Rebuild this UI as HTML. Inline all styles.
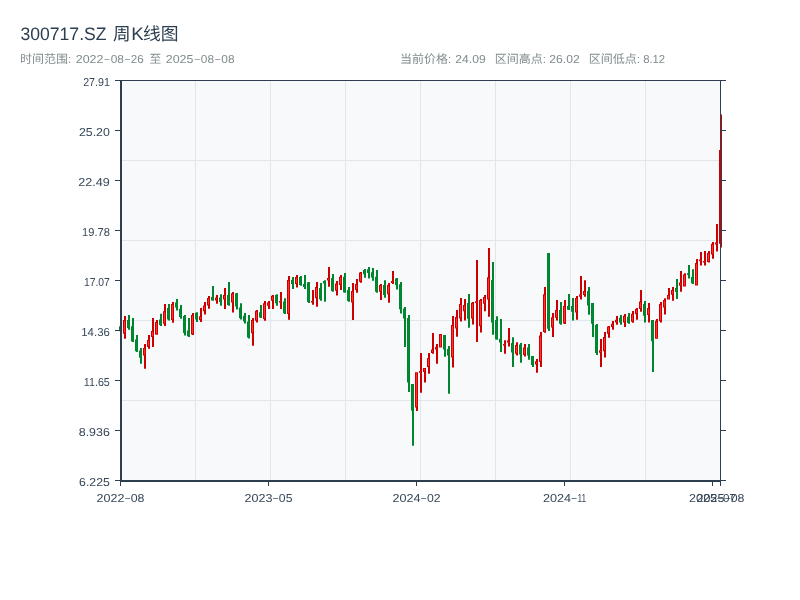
<!DOCTYPE html>
<html lang="zh"><head><meta charset="utf-8"><title>300717.SZ</title>
<style>
html,body{margin:0;padding:0;background:#fff}
body{width:800px;height:600px;overflow:hidden;position:relative;font-family:"Liberation Sans",sans-serif}
svg{position:absolute;left:0;top:0;display:block;will-change:transform}
svg text{font-family:"Liberation Sans","Noto Sans CJK SC",sans-serif;white-space:pre;text-rendering:geometricPrecision}
</style></head><body>
<svg width="800" height="600" viewBox="0 0 800 600">
<title>300717.SZ 周K线图</title><desc>时间范围: 2022-08-26 至 2025-08-08 当前价格: 24.09 区间高点: 26.02 区间低点: 8.12</desc>
<rect x="0" y="0" width="800" height="600" fill="#ffffff"/>
<rect x="121" y="80" width="600" height="400" fill="#f8f9fb"/>
<path d="M195.5 81V480M270.5 81V480M345.5 81V480M420.5 81V480M495.5 81V480M570.5 81V480M645.5 81V480M720.5 81V480M122 160.5H720M122 240.5H720M122 320.5H720M122 400.5H720" stroke="#e2e6ea" stroke-width="1" fill="none"/>
<g clip-path="url(#cp)">
<path d="M120 322h2V333h-2zM119 326.25h3V331.25h-3zM128 315h2V329.75h-2zM127 320h3V328h-3zM132 318h2V341.9h-2zM131 326.25h3V341.5h-3zM136 335h2V351.9h-2zM135 339.5h3V351.25h-3zM140 348h2V363.75h-2zM139 350.5h3V357.75h-3zM160 313.75h2V326h-2zM159 319.4h3V325h-3zM168 304h2V320.6h-2zM167 308h3V319.4h-3zM176 299h2V310.6h-2zM175 302.5h3V307.5h-3zM180 305h2V318.75h-2zM179 308.75h3V316.9h-3zM184 315h2V335.6h-2zM183 316h3V333h-3zM188 318h2V336.9h-2zM187 330.6h3V336.25h-3zM196 312.25h2V321.9h-2zM195 312.75h3V319.4h-3zM212 286h2V300.8h-2zM211 297h3V300.5h-3zM220 294.25h2V305.75h-2zM219 297.6h3V302h-3zM228 282h2V305.75h-2zM227 295h3V305h-3zM236 293h2V309.5h-2zM235 293.25h3V306.4h-3zM240 303.25h2V319.5h-2zM239 307.6h3V318.25h-3zM244 313h2V323.5h-2zM243 315.75h3V321.4h-3zM248 315h2V338.5h-2zM247 321.4h3V337.6h-3zM260 305h2V318h-2zM259 312.25h3V317.6h-3zM276 294.25h2V305.75h-2zM275 295h3V303.25h-3zM284 298.25h2V313.9h-2zM283 301.4h3V313.25h-3zM292 277h2V288.9h-2zM291 280h3V283.9h-3zM300 276h2V285.75h-2zM299 277h3V285h-3zM304 275h2V288.9h-2zM303 283.9h3V287h-3zM308 282h2V303h-2zM307 282.25h3V302h-3zM320 283h2V300.75h-2zM319 288h3V299.25h-3zM324 280.25h2V301.75h-2zM323 281h3V283.6h-3zM332 274h2V291.75h-2zM331 278h3V291h-3zM344 273h2V292.75h-2zM343 276.75h3V292.4h-3zM348 287h2V301.75h-2zM347 289.9h3V301h-3zM364 269h2V277.75h-2zM363 269.9h3V274.25h-3zM368 267h2V278.6h-2zM367 269.25h3V273h-3zM372 268h2V280.75h-2zM371 272.2h3V277.6h-3zM376 269.9h2V292.75h-2zM375 276.75h3V291.75h-3zM384 280.25h2V297.75h-2zM383 284.9h3V294.9h-3zM396 278h2V289.5h-2zM395 278.6h3V284.9h-3zM400 282h2V313.6h-2zM399 284.25h3V309.25h-3zM404 307h2V346.9h-2zM403 308.6h3V318.6h-3zM408 315h2V391.9h-2zM407 318h3V382.5h-3zM412 384h2V445.8h-2zM411 384h3V410.7h-3zM444 335h2V356.7h-2zM443 335h3V349.4h-3zM448 346h2V393.75h-2zM447 349h3V355.6h-3zM468 294h2V327.75h-2zM467 303h3V318.75h-3zM492 262h2V334.75h-2zM491 280h3V322.5h-3zM496 316.25h2V339.75h-2zM495 320h3V339.4h-3zM500 319h2V351.9h-2zM499 338.75h3V342.5h-3zM512 337.25h2V366.9h-2zM511 343h3V352.5h-3zM520 343h2V362.75h-2zM519 344.4h3V354.4h-3zM528 344h2V359.75h-2zM527 347.5h3V355.6h-3zM532 356h2V366.9h-2zM531 356h3V365h-3zM548 253h2V331h-2zM547 253h3V328.75h-3zM560 302h2V324.75h-2zM559 309.9h3V323.75h-3zM568 294h2V309.9h-2zM567 306h3V309.8h-3zM572 298h2V320.5h-2zM571 306h3V311.8h-3zM588 287h2V314.8h-2zM587 291h3V305.5h-3zM592 303h2V336.9h-2zM591 303h3V323.75h-3zM596 324h2V355h-2zM595 325h3V353h-3zM620 315h2V324.75h-2zM619 317.75h3V322.5h-3zM628 313h2V323.75h-2zM627 316.8h3V323h-3zM644 301h2V322.6h-2zM643 303.9h3V315.75h-3zM652 320h2V371.9h-2zM651 320h3V341.25h-3zM676 278.9h2V298.9h-2zM675 288h3V292h-3zM688 265h2V278.5h-2zM687 273.25h3V275h-3zM692 269.25h2V283.9h-2zM691 277h3V283.25h-3z" fill="#00852e"/>
<path d="M120 327.25h1V330.25h-1zM128 321h1V327h-1zM132 327.25h1V340.5h-1zM136 340.5h1V350.25h-1zM140 351.5h1V356.75h-1zM160 320.4h1V324h-1zM168 309h1V318.4h-1zM176 303.5h1V306.5h-1zM180 309.75h1V315.9h-1zM184 317h1V332h-1zM188 331.6h1V335.25h-1zM196 313.75h1V318.4h-1zM212 298h1V299.5h-1zM220 298.6h1V301h-1zM228 296h1V304h-1zM236 294.25h1V305.4h-1zM240 308.6h1V317.25h-1zM244 316.75h1V320.4h-1zM248 322.4h1V336.6h-1zM260 313.25h1V316.6h-1zM276 296h1V302.25h-1zM284 302.4h1V312.25h-1zM292 281h1V282.9h-1zM300 278h1V284h-1zM304 284.9h1V286h-1zM308 283.25h1V301h-1zM320 289h1V298.25h-1zM324 281.87h1V282.73h-1zM332 279h1V290h-1zM344 277.75h1V291.4h-1zM348 290.9h1V300h-1zM364 270.9h1V273.25h-1zM368 270.25h1V272h-1zM372 273.2h1V276.6h-1zM376 277.75h1V290.75h-1zM384 285.9h1V293.9h-1zM396 279.6h1V283.9h-1zM400 285.25h1V308.25h-1zM404 309.6h1V317.6h-1zM408 319h1V381.5h-1zM412 385h1V409.7h-1zM444 336h1V348.4h-1zM448 350h1V354.6h-1zM468 304h1V317.75h-1zM492 281h1V321.5h-1zM496 321h1V338.4h-1zM500 339.75h1V341.5h-1zM512 344h1V351.5h-1zM520 345.4h1V353.4h-1zM528 348.5h1V354.6h-1zM532 357h1V364h-1zM548 254h1V327.75h-1zM560 310.9h1V322.75h-1zM568 307h1V308.8h-1zM572 307h1V310.8h-1zM588 292h1V304.5h-1zM592 304h1V322.75h-1zM596 326h1V352h-1zM620 318.75h1V321.5h-1zM628 317.8h1V322h-1zM644 304.9h1V314.75h-1zM652 321h1V340.25h-1zM676 289h1V291h-1zM688 273.83h1V274.42h-1zM692 278h1V282.25h-1z" fill="#008b33"/>
<path d="M124 316h2V338.75h-2zM123 320h3V333.75h-3zM144 344h2V368.75h-2zM143 348h3V355.6h-3zM148 335h2V348.75h-2zM147 340h3V347h-3zM152 318h2V347h-2zM151 331h3V337h-3zM156 320h2V334.75h-2zM155 322h3V334.5h-3zM164 304h2V326h-2zM163 311.25h3V323.75h-3zM172 302h2V322.75h-2zM171 304h3V320h-3zM192 313h2V335h-2zM191 315h3V334.4h-3zM200 308h2V321.9h-2zM199 316.25h3V320h-3zM204 302h2V314.4h-2zM203 305.6h3V311.25h-3zM208 296h2V308.75h-2zM207 298h3V305.6h-3zM216 295h2V303.75h-2zM215 297.5h3V300.6h-3zM224 288h2V308.9h-2zM223 295h3V299.5h-3zM232 292h2V312.6h-2zM231 293.25h3V302.6h-3zM252 318h2V345.75h-2zM251 320h3V333.25h-3zM256 310h2V322.6h-2zM255 310.75h3V320.75h-3zM264 301h2V320.75h-2zM263 303.25h3V318.9h-3zM268 301h2V308.9h-2zM267 302.6h3V305.75h-3zM272 295h2V308.9h-2zM271 295.75h3V300.75h-3zM280 292h2V308.9h-2zM279 301h3V302.6h-3zM288 276h2V319.75h-2zM287 280h3V313.9h-3zM296 275h2V287.6h-2zM295 277h3V283.9h-3zM312 290h2V304.75h-2zM311 301h3V302.6h-3zM316 282h2V306.75h-2zM315 287h3V298.25h-3zM328 267h2V286.75h-2zM327 278h3V280.5h-3zM336 281h2V295.5h-2zM335 283.6h3V290.75h-3zM340 274.9h2V289.9h-2zM339 276.75h3V284.9h-3zM352 283h2V319.9h-2zM351 291h3V302.4h-3zM356 279h2V292.75h-2zM355 284h3V289.9h-3zM360 272h2V282.75h-2zM359 272.4h3V281.75h-3zM380 284h2V299.9h-2zM379 284.9h3V291.75h-3zM388 283h2V302.75h-2zM387 284.9h3V294.25h-3zM392 271h2V284h-2zM391 281h3V283h-3zM416 372.25h2V410.9h-2zM415 372.25h3V407.5h-3zM420 353h2V392.75h-2zM419 371h3V372.75h-3zM424 368h2V382.5h-2zM423 368h3V371.9h-3zM428 353h2V373.75h-2zM427 358h3V367h-3zM432 333h2V353.75h-2zM431 349.4h3V353h-3zM436 344h2V363.75h-2zM435 347h3V349.4h-3zM440 334h2V347.5h-2zM439 334h3V347.5h-3zM452 316h2V367.5h-2zM451 325h3V357.5h-3zM456 310h2V336.7h-2zM455 317h3V328.4h-3zM460 298h2V321.5h-2zM459 304h3V318.5h-3zM464 299h2V320.6h-2zM463 305h3V311.25h-3zM472 301.9h2V324.4h-2zM471 302.75h3V318.4h-3zM476 260h2V341.9h-2zM475 301.25h3V303h-3zM480 299h2V332.5h-2zM479 300h3V326.25h-3zM484 295h2V311.25h-2zM483 297h3V303.75h-3zM488 248h2V316.7h-2zM487 277.25h3V299.4h-3zM504 340.25h2V353.75h-2zM503 344h3V345.6h-3zM508 328h2V346.5h-2zM507 340.6h3V342.5h-3zM516 342.25h2V355.6h-2zM515 345h3V353.75h-3zM524 344h2V356.5h-2zM523 347.5h3V355h-3zM536 359h2V372.75h-2zM535 361.25h3V364.4h-3zM540 331.9h2V366.9h-2zM539 335.6h3V361.9h-3zM544 287h2V332.75h-2zM543 294.25h3V331.9h-3zM552 313h2V336.9h-2zM551 317.3h3V327.5h-3zM556 299.9h2V320.5h-2zM555 310.1h3V317.75h-3zM564 299.9h2V324h-2zM563 306h3V323.5h-3zM576 296h2V319.8h-2zM575 298h3V312.4h-3zM580 276h2V299.5h-2zM579 294.5h3V296.75h-3zM584 280.25h2V296.75h-2zM583 291h3V294.9h-3zM600 339h2V366.9h-2zM599 350.25h3V352.75h-3zM604 331.9h2V357.5h-2zM603 336.9h3V351.25h-3zM608 326h2V337.75h-2zM607 326.5h3V333.75h-3zM612 321h2V329.75h-2zM611 323.75h3V326.9h-3zM616 316h2V324.75h-2zM615 319.75h3V322.5h-3zM624 314h2V326.9h-2zM623 315.75h3V322.5h-3zM632 311h2V322.75h-2zM631 313.7h3V321.8h-3zM636 308h2V319.8h-2zM635 309h3V314.3h-3zM640 290h2V311.75h-2zM639 301.4h3V308.9h-3zM648 303h2V322.6h-2zM647 308h3V315h-3zM656 318.9h2V338.75h-2zM655 320.7h3V338.75h-3zM660 302h2V322.5h-2zM659 303.9h3V321.3h-3zM664 298.25h2V314.6h-2zM663 300h3V307.6h-3zM668 288h2V299.5h-2zM667 295h3V299.5h-3zM672 287h2V300.75h-2zM671 290h3V294.75h-3zM680 271h2V291.75h-2zM679 282.6h3V285.75h-3zM684 273.25h2V286.4h-2zM683 274.5h3V286.4h-3zM696 259h2V285.5h-2zM695 263h3V285.5h-3zM700 251.9h2V265.6h-2zM699 259.4h3V261.25h-3zM704 251h2V265.6h-2zM703 261h3V262.5h-3zM708 251h2V262.5h-2zM707 253h3V261.9h-3zM712 241.9h2V258.75h-2zM711 243.75h3V254.4h-3zM716 224h2V251.5h-2zM715 242.5h3V244.4h-3zM720 114.5h2V247.5h-2zM719 150h3V243.75h-3z" fill="#cc0000"/>
<path d="M124 321h1V332.75h-1zM144 349h1V354.6h-1zM148 341h1V346h-1zM152 332h1V336h-1zM156 323h1V333.5h-1zM164 312.25h1V322.75h-1zM172 305h1V319h-1zM192 316h1V333.4h-1zM200 317.25h1V319h-1zM204 306.6h1V310.25h-1zM208 299h1V304.6h-1zM216 298.5h1V299.6h-1zM224 296h1V298.5h-1zM232 294.25h1V301.6h-1zM252 321h1V332.25h-1zM256 311.75h1V319.75h-1zM264 304.25h1V317.9h-1zM268 303.6h1V304.75h-1zM272 296.75h1V299.75h-1zM280 301.53h1V302.07h-1zM288 281h1V312.9h-1zM296 278h1V282.9h-1zM312 301.53h1V302.07h-1zM316 288h1V297.25h-1zM328 278.83h1V279.67h-1zM336 284.6h1V289.75h-1zM340 277.75h1V283.9h-1zM352 292h1V301.4h-1zM356 285h1V288.9h-1zM360 273.4h1V280.75h-1zM380 285.9h1V290.75h-1zM388 285.9h1V293.25h-1zM392 281.67h1V282.33h-1zM416 373.25h1V406.5h-1zM420 371.58h1V372.17h-1zM424 369h1V370.9h-1zM428 359h1V366h-1zM432 350.4h1V352h-1zM436 347.8h1V348.6h-1zM440 335h1V346.5h-1zM452 326h1V356.5h-1zM456 318h1V327.4h-1zM460 305h1V317.5h-1zM464 306h1V310.25h-1zM472 303.75h1V317.4h-1zM476 301.83h1V302.42h-1zM480 301h1V325.25h-1zM484 298h1V302.75h-1zM488 278.25h1V298.4h-1zM504 344.53h1V345.07h-1zM508 341.23h1V341.87h-1zM516 346h1V352.75h-1zM524 348.5h1V354h-1zM536 362.25h1V363.4h-1zM540 336.6h1V360.9h-1zM544 295.25h1V330.9h-1zM552 318.3h1V326.5h-1zM556 311.1h1V316.75h-1zM564 307h1V322.5h-1zM576 299h1V311.4h-1zM580 295.25h1V296h-1zM584 292h1V293.9h-1zM600 351.08h1V351.92h-1zM604 337.9h1V350.25h-1zM608 327.5h1V332.75h-1zM612 324.75h1V325.9h-1zM616 320.67h1V321.58h-1zM624 316.75h1V321.5h-1zM632 314.7h1V320.8h-1zM636 310h1V313.3h-1zM640 302.4h1V307.9h-1zM648 309h1V314h-1zM656 321.7h1V337.75h-1zM660 304.9h1V320.3h-1zM664 301h1V306.6h-1zM668 296h1V298.5h-1zM672 291h1V293.75h-1zM680 283.6h1V284.75h-1zM684 275.5h1V285.4h-1zM696 264h1V284.5h-1zM700 260.02h1V260.63h-1zM704 261.5h1V262h-1zM708 254h1V260.9h-1zM712 244.75h1V253.4h-1zM716 243.13h1V243.77h-1zM720 151h1V242.75h-1z" fill="#ff3131"/>
</g>
<defs><clipPath id="cp"><rect x="118" y="80" width="606" height="402"/></clipPath></defs>
<rect x="120" y="80" width="2" height="402" fill="#2c3e50"/>
<rect x="120" y="480" width="601" height="2" fill="#2c3e50"/>
<rect x="720" y="80" width="1" height="406" fill="#2c3e50"/>
<rect x="115" y="80" width="611" height="1" fill="#2c3e50"/>
<path d="M115 80.5h5M721 80.5h5M115 130.5h5M721 130.5h5M115 180.5h5M721 180.5h5M115 230.5h5M721 230.5h5M115 280.5h5M721 280.5h5M115 330.5h5M721 330.5h5M115 380.5h5M721 380.5h5M115 430.5h5M721 430.5h5M115 480.5h5M721 480.5h5M120.5 482v4M268.5 482v4M416.5 482v4M564.5 482v4M712.5 482v4" stroke="#2c3e50" stroke-width="1" fill="none"/>
<g font-family="Liberation Sans, sans-serif" font-size="11.5" fill="#364759"><text x="83.15" y="85.7" textLength="26.7" lengthAdjust="spacingAndGlyphs">27.91</text></g>
<g font-family="Liberation Sans, sans-serif" font-size="11.5" fill="#364759"><text x="78.93" y="135.7" textLength="30.92" lengthAdjust="spacingAndGlyphs">25.20</text></g>
<g font-family="Liberation Sans, sans-serif" font-size="11.5" fill="#364759"><text x="78.28" y="185.7" textLength="31.57" lengthAdjust="spacingAndGlyphs">22.49</text></g>
<g font-family="Liberation Sans, sans-serif" font-size="11.5" fill="#364759"><text x="82.11" y="235.7" textLength="27.74" lengthAdjust="spacingAndGlyphs">19.78</text></g>
<g font-family="Liberation Sans, sans-serif" font-size="11.5" fill="#364759"><text x="83.97" y="285.7" textLength="25.88" lengthAdjust="spacingAndGlyphs">17.07</text></g>
<g font-family="Liberation Sans, sans-serif" font-size="11.5" fill="#364759"><text x="81.28" y="335.7" textLength="28.57" lengthAdjust="spacingAndGlyphs">14.36</text></g>
<g font-family="Liberation Sans, sans-serif" font-size="11.5" fill="#364759"><text x="83.79" y="385.7" textLength="26.06" lengthAdjust="spacingAndGlyphs">11.65</text></g>
<g font-family="Liberation Sans, sans-serif" font-size="11.5" fill="#364759"><text x="78.74" y="435.7" textLength="31.11" lengthAdjust="spacingAndGlyphs">8.936</text></g>
<g font-family="Liberation Sans, sans-serif" font-size="11.5" fill="#364759"><text x="79.12" y="485.7" textLength="30.73" lengthAdjust="spacingAndGlyphs">6.225</text></g>
<g font-family="Liberation Sans, sans-serif" font-size="11.5" fill="#364759"><text x="96.55" y="501.9" textLength="27.9" lengthAdjust="spacingAndGlyphs">2022</text><text x="124.19" y="500.9" font-size="9.2" textLength="6.79" lengthAdjust="spacingAndGlyphs">-</text><text x="130.71" y="501.9" textLength="13.74" lengthAdjust="spacingAndGlyphs">08</text></g>
<g font-family="Liberation Sans, sans-serif" font-size="11.5" fill="#364759"><text x="244.57" y="501.9" textLength="28" lengthAdjust="spacingAndGlyphs">2023</text><text x="272.3" y="500.9" font-size="9.2" textLength="6.79" lengthAdjust="spacingAndGlyphs">-</text><text x="278.83" y="501.9" textLength="13.6" lengthAdjust="spacingAndGlyphs">05</text></g>
<g font-family="Liberation Sans, sans-serif" font-size="11.5" fill="#364759"><text x="392.48" y="501.9" textLength="28.14" lengthAdjust="spacingAndGlyphs">2024</text><text x="420.35" y="500.9" font-size="9.2" textLength="6.8" lengthAdjust="spacingAndGlyphs">-</text><text x="426.9" y="501.9" textLength="13.62" lengthAdjust="spacingAndGlyphs">02</text></g>
<g font-family="Liberation Sans, sans-serif" font-size="11.5" fill="#364759"><text x="542.98" y="501.9" textLength="28.14" lengthAdjust="spacingAndGlyphs">2024</text><text x="570.86" y="500.9" font-size="9.2" textLength="6.79" lengthAdjust="spacingAndGlyphs">-</text><text x="577.38" y="501.9" textLength="8.64" lengthAdjust="spacingAndGlyphs">11</text></g>
<g font-family="Liberation Sans, sans-serif" font-size="11.5" fill="#364759"><text x="688.99" y="501.9" textLength="27.87" lengthAdjust="spacingAndGlyphs">2025</text><text x="716.6" y="500.9" font-size="9.2" textLength="6.79" lengthAdjust="spacingAndGlyphs">-</text><text x="723.12" y="501.9" textLength="12.89" lengthAdjust="spacingAndGlyphs">07</text></g>
<g font-family="Liberation Sans, sans-serif" font-size="11.5" fill="#364759"><text x="696.56" y="501.9" textLength="27.88" lengthAdjust="spacingAndGlyphs">2025</text><text x="724.19" y="500.9" font-size="9.2" textLength="6.79" lengthAdjust="spacingAndGlyphs">-</text><text x="730.71" y="501.9" textLength="13.72" lengthAdjust="spacingAndGlyphs">08</text></g>
<g font-family="Liberation Sans, Noto Sans CJK SC, sans-serif" font-size="17.6" fill="#2c3e50"><text x="112.93" y="40.2">周</text><text x="143.03" y="40.2" textLength="35.6" lengthAdjust="spacingAndGlyphs">线图</text></g><g font-family="Liberation Sans, sans-serif" font-size="18" fill="#2c3e50"><text x="20.45" y="39.9" textLength="86.08" lengthAdjust="spacingAndGlyphs">300717.SZ</text><text x="131.21" y="39.9" textLength="12.5" lengthAdjust="spacingAndGlyphs">K</text></g>
<g font-family="Liberation Sans, Noto Sans CJK SC, sans-serif" font-size="11.72" fill="#7f8c8d"><text x="20" y="62.8" textLength="48" lengthAdjust="spacingAndGlyphs">时间范围</text><text x="149.51" y="62.8">至</text></g><g font-family="Liberation Sans, sans-serif" font-size="11.5" fill="#7f8c8d"><text x="68" y="62.5">:</text><text x="75.73" y="62.5" textLength="27.73" lengthAdjust="spacingAndGlyphs">2022</text><text x="103.61" y="61.5" font-size="9.2" textLength="7.01" lengthAdjust="spacingAndGlyphs">-</text><text x="110.78" y="62.5" textLength="13.2" lengthAdjust="spacingAndGlyphs">08</text><text x="124.21" y="61.5" font-size="9.2" textLength="6.45" lengthAdjust="spacingAndGlyphs">-</text><text x="130.88" y="62.5" textLength="12.97" lengthAdjust="spacingAndGlyphs">26</text><text x="165.78" y="62.5" textLength="27.72" lengthAdjust="spacingAndGlyphs">2025</text><text x="193.65" y="61.5" font-size="9.2" textLength="7.01" lengthAdjust="spacingAndGlyphs">-</text><text x="200.82" y="62.5" textLength="13.2" lengthAdjust="spacingAndGlyphs">08</text><text x="214.18" y="61.5" font-size="9.2" textLength="6.98" lengthAdjust="spacingAndGlyphs">-</text><text x="221.33" y="62.5" textLength="13.2" lengthAdjust="spacingAndGlyphs">08</text></g>
<g font-family="Liberation Sans, Noto Sans CJK SC, sans-serif" font-size="11.72" fill="#7f8c8d"><text x="400" y="62.8" textLength="48" lengthAdjust="spacingAndGlyphs">当前价格</text><text x="494.72" y="62.8" textLength="48" lengthAdjust="spacingAndGlyphs">区间高点</text><text x="588.7" y="62.8" textLength="48" lengthAdjust="spacingAndGlyphs">区间低点</text></g><g font-family="Liberation Sans, sans-serif" font-size="11.5" fill="#7f8c8d"><text x="448" y="62.5">:</text><text x="455.39" y="62.5" textLength="30.33" lengthAdjust="spacingAndGlyphs">24.09</text><text x="542.72" y="62.5">:</text><text x="549.39" y="62.5" textLength="30.37" lengthAdjust="spacingAndGlyphs">26.02</text><text x="636.7" y="62.5">:</text><text x="643.16" y="62.5" textLength="22.01" lengthAdjust="spacingAndGlyphs">8.12</text></g>
</svg>
</body></html>
